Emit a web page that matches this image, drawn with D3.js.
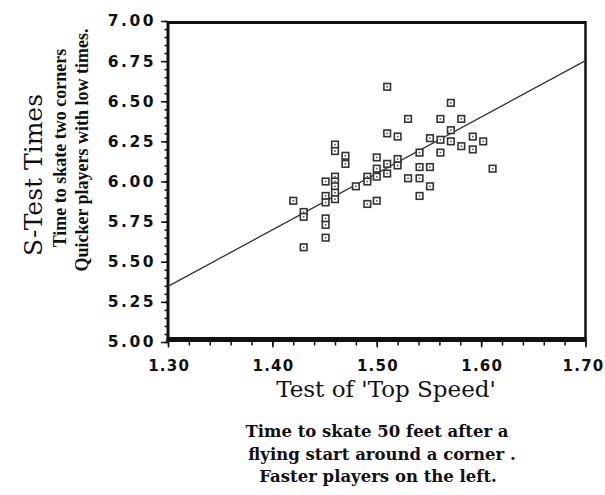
<!DOCTYPE html>
<html>
<head>
<meta charset="utf-8">
<script src="https://cdn.jsdelivr.net/npm/d3@7"></script>
<style>
  body { margin: 0; background: #fff; }
  .tick text { font-family: "DejaVu Sans", sans-serif; font-weight: bold; font-size: 15px; fill: #111; }
  .serif { font-family: "DejaVu Serif", serif; fill: #111; }
  .tserif { font-family: "Liberation Serif", serif; fill: #111; }
</style>
</head>
<body>
<div id="chart"></div>
<script>
// top speed test (seconds) for each player
var topSpeed = [1.510, 1.530, 1.561, 1.571, 1.581, 1.510, 1.520, 1.551, 1.561, 1.571,
  1.571, 1.581, 1.592, 1.592, 1.602, 1.611, 1.561, 1.541, 1.541, 1.551,
  1.541, 1.530, 1.551, 1.541, 1.520, 1.520, 1.510, 1.510, 1.500, 1.500,
  1.500, 1.500, 1.491, 1.491, 1.491, 1.480, 1.470, 1.470, 1.460, 1.460,
  1.460, 1.460, 1.460, 1.460, 1.460, 1.451, 1.451, 1.451, 1.451, 1.451,
  1.451, 1.430, 1.430, 1.430, 1.420]
// S-test times (seconds), same order
var sTest = [6.59, 6.39, 6.39, 6.49, 6.39, 6.30, 6.28, 6.27, 6.26, 6.32,
  6.25, 6.22, 6.28, 6.20, 6.25, 6.08, 6.18, 6.18, 6.09, 6.09,
  6.02, 6.02, 5.97, 5.91, 6.14, 6.10, 6.11, 6.05, 6.15, 6.08,
  6.03, 5.88, 6.03, 6.00, 5.86, 5.97, 6.16, 6.11, 6.23, 6.19,
  6.03, 6.00, 5.97, 5.93, 5.89, 6.00, 5.91, 5.87, 5.77, 5.73,
  5.65, 5.81, 5.78, 5.59, 5.88]

// fitted line y = a + b*x
var fitIntercept = 0.776
var fitSlope = 3.516

var xTicks = [1.30, 1.40, 1.50, 1.60, 1.70]
var yTicks = [5.00, 5.25, 5.50, 5.75, 6.00, 6.25, 6.50, 6.75, 7.00]

var yTitle = "S-Test Times"
var ySub = ["Time to skate two corners", "Quicker players with low times."]
var xTitle = "Test of 'Top Speed'"
var xSub = ["Time to skate 50 feet after a", "flying start around a corner .", "Faster players on the left."]

var w = 605, h = 495

var svg = d3.select("#chart")
  .append("svg")
  .attr("width", w)
  .attr("height", h)

var x = d3.scaleLinear().domain([1.30, 1.70]).range([168, 585.5])
var y = d3.scaleLinear().domain([5.00, 7.00]).range([342, 21])

var ink = "#111"

// minor ticks
svg.append("g")
  .attr("transform", "translate(0," + y(5) + ")")
  .call(d3.axisBottom(x).tickValues(d3.range(1.30, 1.7001, 0.02)).tickSize(3.5).tickFormat(""))
  .call(function(g) { g.select(".domain").remove() })
svg.append("g")
  .attr("transform", "translate(" + (x(1.3) - 1) + ",0)")
  .call(d3.axisLeft(y).tickValues(d3.range(5.0, 7.0001, 0.05)).tickSize(2.5).tickFormat(""))
  .call(function(g) { g.select(".domain").remove() })

// major ticks + labels
svg.append("g")
  .attr("transform", "translate(0," + y(5) + ")")
  .call(d3.axisBottom(x).tickValues(xTicks).tickSize(5.5).tickPadding(13).tickFormat(d3.format(".2f")))
  .call(function(g) { g.select(".domain").remove() })
  .selectAll("text")
  .style("letter-spacing", "1.2px")
  .attr("dx", function(d, i) { return i == xTicks.length - 1 ? "-2.5px" : "0.6px" })
svg.append("g")
  .attr("transform", "translate(" + x(1.3) + ",0)")
  .call(d3.axisLeft(y).tickValues(yTicks).tickSize(7).tickPadding(5).tickFormat(d3.format(".2f")))
  .call(function(g) { g.select(".domain").remove() })
  .selectAll("text").style("letter-spacing", "2.5px").style("font-size", "15.5px")

svg.selectAll(".tick line").attr("stroke", ink).attr("stroke-width", 1.5)

// frame: thick left and bottom, thinner top and right
svg.append("line")
  .attr("x1", x(1.3)).attr("x2", x(1.7))
  .attr("y1", y(7) + 1.5).attr("y2", y(7) + 1.5)
  .attr("stroke", ink).attr("stroke-width", 3)
svg.append("line")
  .attr("x1", x(1.7)).attr("x2", x(1.7))
  .attr("y1", y(7)).attr("y2", y(5))
  .attr("stroke", ink).attr("stroke-width", 2.5)
svg.append("line")
  .attr("x1", x(1.3)).attr("x2", x(1.3))
  .attr("y1", y(7)).attr("y2", y(5))
  .attr("stroke", ink).attr("stroke-width", 3)
svg.append("rect")
  .attr("x", x(1.3) - 1.5)
  .attr("y", y(5) - 5)
  .attr("width", x(1.7) - x(1.3) + 2.5)
  .attr("height", 5)
  .attr("fill", ink)

// regression line
svg.append("line")
  .attr("x1", x(1.3)).attr("y1", y(fitIntercept + fitSlope * 1.3))
  .attr("x2", x(1.7)).attr("y2", y(fitIntercept + fitSlope * 1.7))
  .attr("stroke", "#333").attr("stroke-width", 1.3)

// points: small squares with a dot in the middle
var pts = topSpeed.map(function(d, i) { return [d, sTest[i]] })
var dotG = svg.append("g")
dotG.selectAll("rect.pt")
  .data(pts)
  .enter()
  .append("rect")
  .classed("pt", true)
  .attr("x", function(d) { return x(d[0]) - 3.3 })
  .attr("y", function(d) { return y(d[1]) - 3.3 })
  .attr("width", 6.6).attr("height", 6.6)
  .attr("fill", "#fff")
  .attr("stroke", "#333").attr("stroke-width", 1.6)
dotG.selectAll("rect.c")
  .data(pts)
  .enter()
  .append("rect")
  .classed("c", true)
  .attr("x", function(d) { return x(d[0]) - 0.8 })
  .attr("y", function(d) { return y(d[1]) - 0.8 })
  .attr("width", 1.6).attr("height", 1.6)
  .attr("fill", "#555")

// y titles (rotated)
svg.append("text").classed("serif", true)
  .attr("transform", "translate(42,175) rotate(-90)")
  .attr("text-anchor", "middle")
  .style("font-size", "25px")
  .text(yTitle)
var ySubPos = [[66, 148], [88, 150]]
svg.selectAll("text.ysub")
  .data(ySub)
  .enter()
  .append("text")
  .classed("tserif ysub", true)
  .attr("transform", function(d, i) { return "translate(" + ySubPos[i][0] + "," + ySubPos[i][1] + ") rotate(-90)" })
  .attr("text-anchor", "middle")
  .style("font-size", "18px").style("font-weight", "bold")
  .text(function(d) { return d })

// x titles
svg.append("text").classed("serif", true)
  .attr("x", 386).attr("y", 397)
  .attr("text-anchor", "middle")
  .style("font-size", "23px")
  .text(xTitle)
var xSubX = [377, 382, 378]
svg.selectAll("text.xsub")
  .data(xSub)
  .enter()
  .append("text")
  .classed("serif xsub", true)
  .attr("x", function(d, i) { return xSubX[i] })
  .attr("y", function(d, i) { return 437 + i * 22.5 })
  .attr("text-anchor", "middle")
  .style("font-size", "16.5px").style("font-weight", "bold")
  .text(function(d) { return d })
</script>
</body>
</html>
